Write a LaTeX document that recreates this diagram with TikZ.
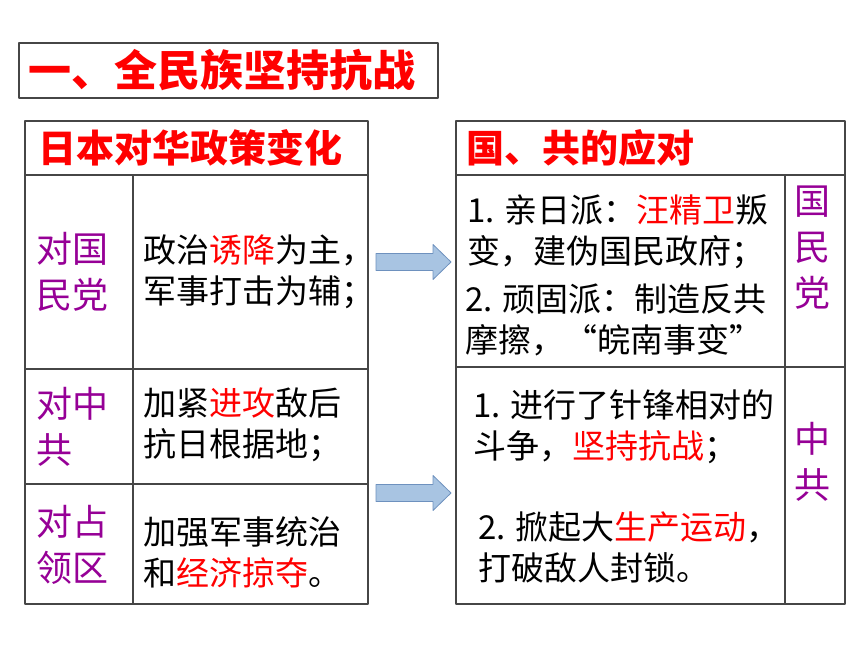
\documentclass[tikz,border=0pt]{standalone}
\usepackage{fontspec}
\newfontfamily\cjk{Noto Sans CJK SC}
\definecolor{hong}{RGB}{255,0,0}
\definecolor{zi}{RGB}{150,0,150}
\definecolor{jiantou}{RGB}{168,196,226}
\definecolor{jianbian}{RGB}{110,145,190}
\definecolor{kuang}{RGB}{70,70,70}
\newcommand{\hl}[1]{\textcolor{hong}{#1}}
\begin{document}
\begin{tikzpicture}[x=1pt,y=-1pt,line join=round,
  grid/.style={draw=kuang,line width=1.2pt},
  title/.style={anchor=west,inner sep=0pt,text=hong,font=\cjk\bfseries\fontsize{43}{46}\selectfont},
  head/.style={anchor=west,inner sep=0pt,text=hong,font=\cjk\bfseries\fontsize{38}{40}\selectfont},
  side/.style={inner sep=0pt,text=zi,align=left,font=\cjk\fontsize{36}{46}\selectfont},
  body/.style={anchor=west,inner sep=0pt,align=left,font=\cjk\fontsize{33}{41}\selectfont},
  arrowfill/.style={fill=jiantou,draw=jianbian,line width=0.8pt}]
\useasboundingbox (0,0) rectangle (860,645);
\def \top{121};
\def \bot{604};
% title
\draw[grid] (19,43) rectangle (438,98);
\node[title] (t) at (28,70) {一、全民族坚持抗战};
% left table
\draw[grid] (25,\top) rectangle (368,\bot);
\draw[grid] (25,175) -- (368,175) (133,175) -- (133,\bot);
\foreach \y in {369,484}{\draw[grid] (25,\y) -- (368,\y);}
\node[head] (rb) at (38,148) {日本对华政策变化};
\node[side,anchor=west] (gmd) at (36,272) {对国\\民党};
\node[side,anchor=west] (zg) at (36,427) {对中\\共};
\node[side,anchor=west] (zl) at (36,545) {对占\\领区};
\node[body] (gmdz) at (143,272) {政治\hl{诱降}为主，\\军事打击为辅；};
\node[body] (zgz) at (143,425) {加紧\hl{进攻}敌后\\抗日根据地；};
\node[body] (zlz) at (143,552) {加强军事统治\\和\hl{经济掠夺}。};
% arrows
\foreach \y in {262,493}{\draw[arrowfill] (376,\y-8.5) -- (433,\y-8.5) -- (433,\y-17.5) -- (451,\y) -- (433,\y+17.5) -- (433,\y+8.5) -- (376,\y+8.5) -- cycle;}
% right table
\draw[grid] (456,\top) rectangle (845,\bot);
\draw[grid] (456,175) -- (845,175) (785,175) -- (785,\bot) (456,367) -- (845,367);
\node[head] (yd) at (466,148) {国、共的应对};
\node[body] (g1) at (467,232) {1. 亲日派：\hl{汪精卫}叛\\变，建伪国民政府；};
\node[body] (g2) at (465,320) {2. 顽固派：制造反共\\摩擦，“皖南事变”};
\node[body] (c1) at (473,427) {1. 进行了针锋相对的\\斗争，\hl{坚持抗战}；};
\node[body] (c2) at (478,547) {2. 掀起大\hl{生产运动}，\\打破敌人封锁。};
\node[side,align=center] (gmdr) at (812,248) {国\\民\\党};
\node[side,align=center] (zgr) at (812,462) {中\\共};
\end{tikzpicture}
\end{document}
